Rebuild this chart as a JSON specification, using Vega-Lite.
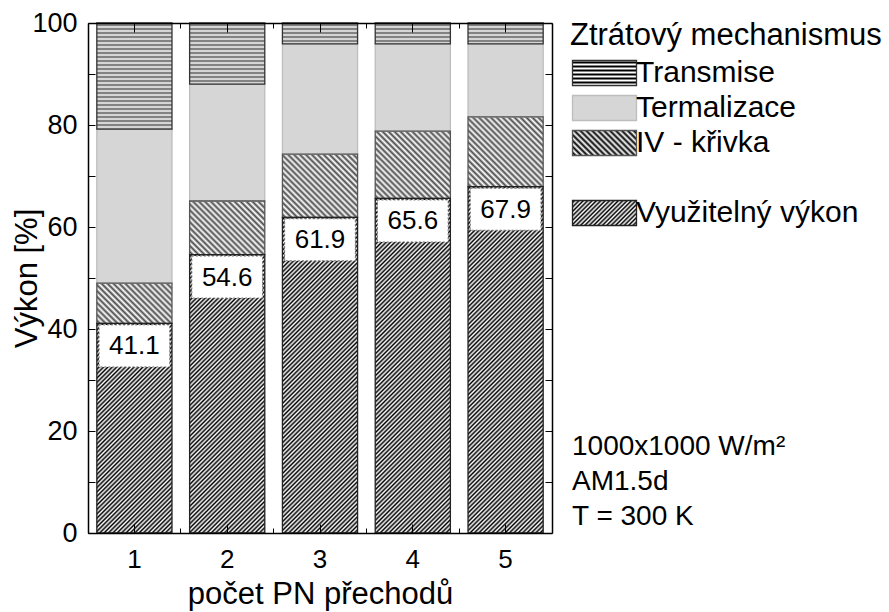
{
  "$schema": "https://vega.github.io/schema/vega-lite/v6.json",
  "width": 464,
  "height": 510,
  "autosize": {"type": "none"},
  "padding": {"left": 88, "top": 23, "right": 337, "bottom": 79},
  "background": "white",
  "config": {"font": "Liberation Sans", "view": {"stroke": null}},
  "params": [
    {"name": "hatch", "value": [
      {"offset":0,"color":"#fff"},{"offset":0.005,"color":"#000"},{"offset":0.01,"color":"#fff"},{"offset":0.015,"color":"#000"},{"offset":0.02,"color":"#fff"},{"offset":0.025,"color":"#000"},{"offset":0.03,"color":"#fff"},{"offset":0.035,"color":"#000"},{"offset":0.04,"color":"#fff"},{"offset":0.045,"color":"#000"},
      {"offset":0.05,"color":"#fff"},{"offset":0.055,"color":"#000"},{"offset":0.06,"color":"#fff"},{"offset":0.065,"color":"#000"},{"offset":0.07,"color":"#fff"},{"offset":0.075,"color":"#000"},{"offset":0.08,"color":"#fff"},{"offset":0.085,"color":"#000"},{"offset":0.09,"color":"#fff"},{"offset":0.095,"color":"#000"},
      {"offset":0.1,"color":"#fff"},{"offset":0.105,"color":"#000"},{"offset":0.11,"color":"#fff"},{"offset":0.115,"color":"#000"},{"offset":0.12,"color":"#fff"},{"offset":0.125,"color":"#000"},{"offset":0.13,"color":"#fff"},{"offset":0.135,"color":"#000"},{"offset":0.14,"color":"#fff"},{"offset":0.145,"color":"#000"},
      {"offset":0.15,"color":"#fff"},{"offset":0.155,"color":"#000"},{"offset":0.16,"color":"#fff"},{"offset":0.165,"color":"#000"},{"offset":0.17,"color":"#fff"},{"offset":0.175,"color":"#000"},{"offset":0.18,"color":"#fff"},{"offset":0.185,"color":"#000"},{"offset":0.19,"color":"#fff"},{"offset":0.195,"color":"#000"},
      {"offset":0.2,"color":"#fff"},{"offset":0.205,"color":"#000"},{"offset":0.21,"color":"#fff"},{"offset":0.215,"color":"#000"},{"offset":0.22,"color":"#fff"},{"offset":0.225,"color":"#000"},{"offset":0.23,"color":"#fff"},{"offset":0.235,"color":"#000"},{"offset":0.24,"color":"#fff"},{"offset":0.245,"color":"#000"},
      {"offset":0.25,"color":"#fff"},{"offset":0.255,"color":"#000"},{"offset":0.26,"color":"#fff"},{"offset":0.265,"color":"#000"},{"offset":0.27,"color":"#fff"},{"offset":0.275,"color":"#000"},{"offset":0.28,"color":"#fff"},{"offset":0.285,"color":"#000"},{"offset":0.29,"color":"#fff"},{"offset":0.295,"color":"#000"},
      {"offset":0.3,"color":"#fff"},{"offset":0.305,"color":"#000"},{"offset":0.31,"color":"#fff"},{"offset":0.315,"color":"#000"},{"offset":0.32,"color":"#fff"},{"offset":0.325,"color":"#000"},{"offset":0.33,"color":"#fff"},{"offset":0.335,"color":"#000"},{"offset":0.34,"color":"#fff"},{"offset":0.345,"color":"#000"},
      {"offset":0.35,"color":"#fff"},{"offset":0.355,"color":"#000"},{"offset":0.36,"color":"#fff"},{"offset":0.365,"color":"#000"},{"offset":0.37,"color":"#fff"},{"offset":0.375,"color":"#000"},{"offset":0.38,"color":"#fff"},{"offset":0.385,"color":"#000"},{"offset":0.39,"color":"#fff"},{"offset":0.395,"color":"#000"},
      {"offset":0.4,"color":"#fff"},{"offset":0.405,"color":"#000"},{"offset":0.41,"color":"#fff"},{"offset":0.415,"color":"#000"},{"offset":0.42,"color":"#fff"},{"offset":0.425,"color":"#000"},{"offset":0.43,"color":"#fff"},{"offset":0.435,"color":"#000"},{"offset":0.44,"color":"#fff"},{"offset":0.445,"color":"#000"},
      {"offset":0.45,"color":"#fff"},{"offset":0.455,"color":"#000"},{"offset":0.46,"color":"#fff"},{"offset":0.465,"color":"#000"},{"offset":0.47,"color":"#fff"},{"offset":0.475,"color":"#000"},{"offset":0.48,"color":"#fff"},{"offset":0.485,"color":"#000"},{"offset":0.49,"color":"#fff"},{"offset":0.495,"color":"#000"},
      {"offset":0.5,"color":"#fff"},{"offset":0.505,"color":"#000"},{"offset":0.51,"color":"#fff"},{"offset":0.515,"color":"#000"},{"offset":0.52,"color":"#fff"},{"offset":0.525,"color":"#000"},{"offset":0.53,"color":"#fff"},{"offset":0.535,"color":"#000"},{"offset":0.54,"color":"#fff"},{"offset":0.545,"color":"#000"},
      {"offset":0.55,"color":"#fff"},{"offset":0.555,"color":"#000"},{"offset":0.56,"color":"#fff"},{"offset":0.565,"color":"#000"},{"offset":0.57,"color":"#fff"},{"offset":0.575,"color":"#000"},{"offset":0.58,"color":"#fff"},{"offset":0.585,"color":"#000"},{"offset":0.59,"color":"#fff"},{"offset":0.595,"color":"#000"},
      {"offset":0.6,"color":"#fff"},{"offset":0.605,"color":"#000"},{"offset":0.61,"color":"#fff"},{"offset":0.615,"color":"#000"},{"offset":0.62,"color":"#fff"},{"offset":0.625,"color":"#000"},{"offset":0.63,"color":"#fff"},{"offset":0.635,"color":"#000"},{"offset":0.64,"color":"#fff"},{"offset":0.645,"color":"#000"},
      {"offset":0.65,"color":"#fff"},{"offset":0.655,"color":"#000"},{"offset":0.66,"color":"#fff"},{"offset":0.665,"color":"#000"},{"offset":0.67,"color":"#fff"},{"offset":0.675,"color":"#000"},{"offset":0.68,"color":"#fff"},{"offset":0.685,"color":"#000"},{"offset":0.69,"color":"#fff"},{"offset":0.695,"color":"#000"},
      {"offset":0.7,"color":"#fff"},{"offset":0.705,"color":"#000"},{"offset":0.71,"color":"#fff"},{"offset":0.715,"color":"#000"},{"offset":0.72,"color":"#fff"},{"offset":0.725,"color":"#000"},{"offset":0.73,"color":"#fff"},{"offset":0.735,"color":"#000"},{"offset":0.74,"color":"#fff"},{"offset":0.745,"color":"#000"},
      {"offset":0.75,"color":"#fff"},{"offset":0.755,"color":"#000"},{"offset":0.76,"color":"#fff"},{"offset":0.765,"color":"#000"},{"offset":0.77,"color":"#fff"},{"offset":0.775,"color":"#000"},{"offset":0.78,"color":"#fff"},{"offset":0.785,"color":"#000"},{"offset":0.79,"color":"#fff"},{"offset":0.795,"color":"#000"},
      {"offset":0.8,"color":"#fff"},{"offset":0.805,"color":"#000"},{"offset":0.81,"color":"#fff"},{"offset":0.815,"color":"#000"},{"offset":0.82,"color":"#fff"},{"offset":0.825,"color":"#000"},{"offset":0.83,"color":"#fff"},{"offset":0.835,"color":"#000"},{"offset":0.84,"color":"#fff"},{"offset":0.845,"color":"#000"},
      {"offset":0.85,"color":"#fff"},{"offset":0.855,"color":"#000"},{"offset":0.86,"color":"#fff"},{"offset":0.865,"color":"#000"},{"offset":0.87,"color":"#fff"},{"offset":0.875,"color":"#000"},{"offset":0.88,"color":"#fff"},{"offset":0.885,"color":"#000"},{"offset":0.89,"color":"#fff"},{"offset":0.895,"color":"#000"},
      {"offset":0.9,"color":"#fff"},{"offset":0.905,"color":"#000"},{"offset":0.91,"color":"#fff"},{"offset":0.915,"color":"#000"},{"offset":0.92,"color":"#fff"},{"offset":0.925,"color":"#000"},{"offset":0.93,"color":"#fff"},{"offset":0.935,"color":"#000"},{"offset":0.94,"color":"#fff"},{"offset":0.945,"color":"#000"},
      {"offset":0.95,"color":"#fff"},{"offset":0.955,"color":"#000"},{"offset":0.96,"color":"#fff"},{"offset":0.965,"color":"#000"},{"offset":0.97,"color":"#fff"},{"offset":0.975,"color":"#000"},{"offset":0.98,"color":"#fff"},{"offset":0.985,"color":"#000"},{"offset":0.99,"color":"#fff"},{"offset":0.995,"color":"#000"},
      {"offset":1,"color":"#fff"}
    ]}
  ],
  "title": {
    "text": ["1000x1000 W/m²", "AM1.5d", "T = 300 K"],
    "orient": "top",
    "anchor": "start",
    "frame": "group",
    "align": "left",
    "baseline": "alphabetic",
    "offset": 0,
    "dx": 484,
    "dy": 544,
    "lineHeight": 35,
    "fontSize": 28,
    "fontWeight": "normal",
    "font": "Liberation Sans",
    "color": "#000"
  },
  "data": {"values": [
    {"n": 1, "mech": "Termalizace", "p": 30.2, "k": 3},
    {"n": 1, "mech": "IV - křivka", "p": 7.9, "k": 2},
    {"n": 1, "mech": "Využitelný výkon", "p": 41.1, "k": 1},
    {"n": 1, "mech": "Transmise", "p": 20.8, "k": 4},
    {"n": 2, "mech": "Termalizace", "p": 22.9, "k": 3},
    {"n": 2, "mech": "IV - křivka", "p": 10.5, "k": 2},
    {"n": 2, "mech": "Využitelný výkon", "p": 54.6, "k": 1},
    {"n": 2, "mech": "Transmise", "p": 12.0, "k": 4},
    {"n": 3, "mech": "Termalizace", "p": 21.6, "k": 3},
    {"n": 3, "mech": "IV - křivka", "p": 12.4, "k": 2},
    {"n": 3, "mech": "Využitelný výkon", "p": 61.9, "k": 1},
    {"n": 3, "mech": "Transmise", "p": 4.1, "k": 4},
    {"n": 4, "mech": "Termalizace", "p": 17.1, "k": 3},
    {"n": 4, "mech": "IV - křivka", "p": 13.2, "k": 2},
    {"n": 4, "mech": "Využitelný výkon", "p": 65.6, "k": 1},
    {"n": 4, "mech": "Transmise", "p": 4.1, "k": 4},
    {"n": 5, "mech": "Termalizace", "p": 14.3, "k": 3},
    {"n": 5, "mech": "IV - křivka", "p": 13.7, "k": 2},
    {"n": 5, "mech": "Využitelný výkon", "p": 67.9, "k": 1},
    {"n": 5, "mech": "Transmise", "p": 4.1, "k": 4}
  ]},
  "layer": [
    {
      "mark": {
        "type": "bar",
        "strokeWidth": 0,
        "fill": {"expr": "datum.mech=='Termalizace' ? '#d6d6d6' : datum.mech=='Transmise' ? {gradient:'linear',x1:0,y1:0,x2:0,y2:400/(scale('y',datum.p_start)-scale('y',datum.p_end)),stops:hatch} : datum.mech=='IV - křivka' ? {gradient:'linear',x1:0,y1:1,x2:594*bandwidth('x')/(pow(bandwidth('x'),2)+pow(scale('y',datum.p_start)-scale('y',datum.p_end),2)),y2:1-594*(scale('y',datum.p_start)-scale('y',datum.p_end))/(pow(bandwidth('x'),2)+pow(scale('y',datum.p_start)-scale('y',datum.p_end),2)),stops:hatch} : {gradient:'linear',x1:0,y1:0,x2:438*bandwidth('x')/(pow(bandwidth('x'),2)+pow(scale('y',datum.p_start)-scale('y',datum.p_end),2)),y2:438*(scale('y',datum.p_start)-scale('y',datum.p_end))/(pow(bandwidth('x'),2)+pow(scale('y',datum.p_start)-scale('y',datum.p_end),2)),stops:hatch}"},
        "fillOpacity": {"expr": "datum.mech=='Transmise' ? 0.65 : datum.mech=='IV - křivka' ? 0.7 : 1"}
      },
      "encoding": {
        "x": {
          "field": "n", "type": "ordinal",
          "scale": {"paddingInner": 0.19, "paddingOuter": 0.095},
          "axis": {
            "orient": "bottom", "title": "počet PN přechodů", "titleFontSize": 31, "titleFontWeight": "normal",
            "titleColor": "#000", "titleBaseline": "alphabetic", "titleY": 70,
            "labelAngle": 0, "labelFontSize": 26, "labelColor": "#000", "labelBaseline": "alphabetic", "labelPadding": 43,
            "tickSize": -9, "tickColor": "#000", "tickWidth": 1, "domain": true, "domainColor": "#000", "domainWidth": 1.5,
            "grid": false, "zindex": 1
          }
        },
        "y": {
          "field": "p", "type": "quantitative", "stack": "zero",
          "scale": {"domain": [0, 100], "nice": false},
          "axis": {
            "orient": "left", "title": "Výkon [%]", "titleFontSize": 31, "titleFontWeight": "normal", "titleColor": "#000",
            "titleX": -61, "titleY": 255, "titleBaseline": "middle", "titleAngle": -90,
            "values": [0, 10, 20, 30, 40, 50, 60, 70, 80, 90, 100],
            "labelExpr": "datum.value % 20 == 0 ? datum.label : ''",
            "labelFontSize": 27, "labelColor": "#000", "labelPadding": 18, "labelBaseline": "middle",
            "tickSize": -7, "tickColor": "#000", "tickWidth": 1, "domain": true, "domainColor": "#000", "domainWidth": 1.5,
            "grid": false, "zindex": 1
          }
        },
        "order": {"field": "k", "type": "quantitative"}
      }
    },
    {
      "mark": {"type": "bar", "strokeWidth": 1.3},
      "encoding": {
        "x": {
          "field": "n", "type": "ordinal",
          "axis": {"orient": "top", "title": null, "labels": false, "tickSize": -9, "tickColor": "#000", "domain": true, "domainColor": "#000", "domainWidth": 1.5, "grid": false, "zindex": 1}
        },
        "y": {
          "field": "p", "type": "quantitative", "stack": "zero",
          "scale": {"domain": [0, 100], "nice": false},
          "axis": {"orient": "right", "title": null, "labels": false, "values": [0, 10, 20, 30, 40, 50, 60, 70, 80, 90, 100], "tickSize": -7, "tickColor": "#000", "domain": true, "domainColor": "#000", "domainWidth": 1.5, "grid": false, "zindex": 1}
        },
        "order": {"field": "k", "type": "quantitative"},
        "fill": {
          "condition": {"test": "true", "value": "transparent"},
          "field": "mech", "type": "nominal",
          "scale": {
            "domain": ["Transmise", "Termalizace", "IV - křivka", " ", "Využitelný výkon"],
            "range": [
              {"expr": "{gradient:'linear',x1:0,y1:0,x2:0,y2:16,stops:hatch}"},
              "#d6d6d6",
              {"expr": "{gradient:'linear',x1:0,y1:1,x2:8.05,y2:-2.146,stops:hatch}"},
              "transparent",
              {"expr": "{gradient:'linear',x1:0,y1:0,x2:5.94,y2:2.32,stops:hatch}"}
            ]
          },
          "legend": {
            "orient": "none", "legendX": 482, "legendY": -2, "padding": 0,
            "title": "Ztrátový mechanismus", "titleFontSize": 31, "titleFontWeight": "normal", "titleColor": "#000", "titlePadding": 6, "titleLimit": 400,
            "labelFontSize": 30, "labelColor": "#000", "labelOffset": 36, "labelLimit": 400,
            "symbolType": "M-1,-1H4.12V1H-1Z", "symbolSize": 625, "symbolStrokeWidth": 1.3,
            "rowPadding": 3,
            "encode": {
              "labels": {"dx": {"value": {"expr": "datum.value == 'Využitelný výkon' ? 11 : 0"}}}
            }
          }
        },
        "fillOpacity": {
          "field": "mech", "type": "nominal",
          "scale": {"domain": ["Transmise", "Termalizace", "IV - křivka", " ", "Využitelný výkon"], "range": [0.6, 1, 0.7, 0, 1]}
        },
        "stroke": {
          "field": "mech", "type": "nominal",
          "scale": {"domain": ["Transmise", "Termalizace", "IV - křivka", " ", "Využitelný výkon"], "range": ["#333333", "#bdbdbd", "#555555", "transparent", "#222222"]}
        }
      }
    },
    {
      "transform": [{"filter": "datum.mech == 'Využitelný výkon'"}],
      "mark": {"type": "bar", "fill": "#fff", "stroke": "#777", "strokeWidth": 1, "strokeDash": [2, 2], "yOffset": 1.5, "y2Offset": 43.5, "width": {"band": 0.94}},
      "encoding": {
        "x": {
          "field": "n", "type": "ordinal",
          "axis": {"orient": "bottom", "title": null, "labels": false, "bandPosition": -0.117, "tickSize": -5, "tickColor": "#000", "domain": false, "grid": false, "zindex": 1}
        },
        "y": {"field": "p", "type": "quantitative", "scale": {"domain": [0, 100], "nice": false}, "axis": null},
        "y2": {"field": "p"}
      }
    },
    {
      "transform": [{"filter": "datum.mech == 'Využitelný výkon'"}],
      "mark": {"type": "text", "dy": 23, "baseline": "middle", "align": "center", "fontSize": 26, "font": "Liberation Sans", "color": "#000"},
      "encoding": {
        "x": {
          "field": "n", "type": "ordinal",
          "axis": {"orient": "top", "title": null, "labels": false, "bandPosition": -0.117, "tickSize": -5, "tickColor": "#000", "domain": false, "grid": false, "zindex": 1}
        },
        "y": {"field": "p", "type": "quantitative", "scale": {"domain": [0, 100], "nice": false}, "axis": null},
        "text": {"field": "p", "type": "quantitative", "format": ".1f"}
      }
    }
  ],
  "resolve": {"axis": {"x": "independent", "y": "independent"}}
}
